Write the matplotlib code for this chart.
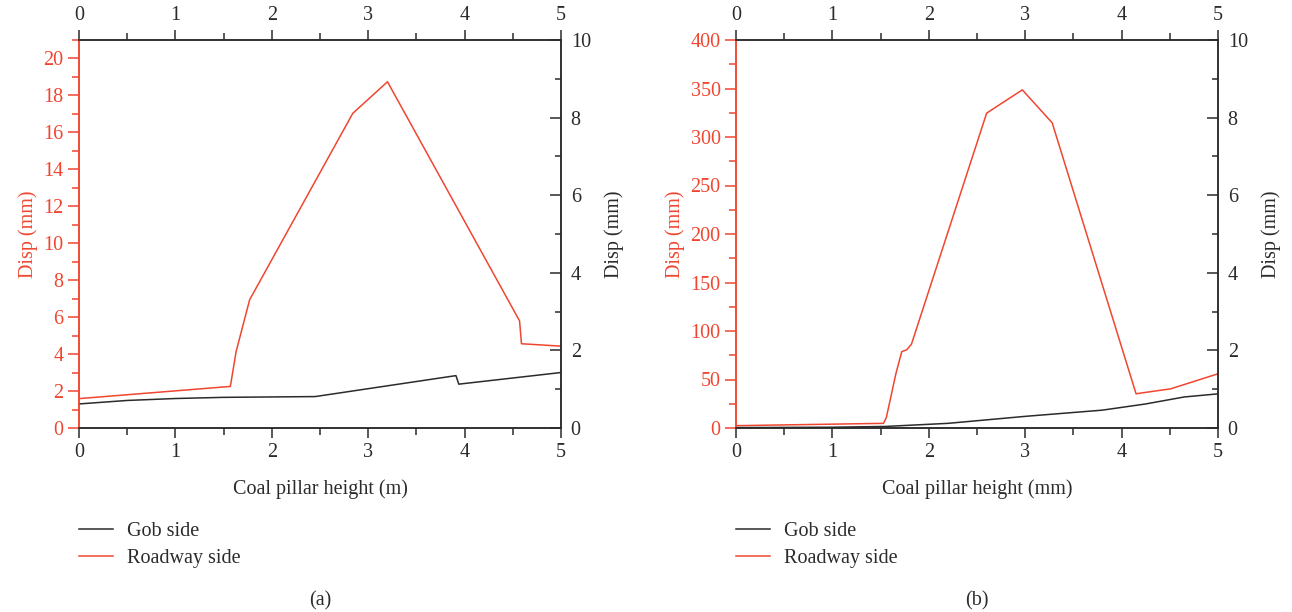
import matplotlib
matplotlib.use("Agg")
import matplotlib.pyplot as plt
from matplotlib.ticker import MultipleLocator
from matplotlib.lines import Line2D

plt.rcParams['font.family'] = ['Liberation Serif', 'DejaVu Serif']

RED = '#f04630'
DARK = '#2b2b2b'

# Panel (a)
a_road_x = [0, 1.57, 1.63, 1.77, 2.84, 3.20, 4.57, 4.59, 5.0]
a_road_y = [1.59, 2.25, 4.14, 6.94, 17.03, 18.74, 5.80, 4.56, 4.43]
a_gob_x = [0, 0.5, 1.0, 1.5, 2.45, 3.91, 3.94, 5.0]
a_gob_y = [0.62, 0.71, 0.76, 0.79, 0.81, 1.35, 1.13, 1.43]

# Panel (b)
b_road_x = [0, 1.53, 1.56, 1.66, 1.72, 1.77, 1.82, 2.60, 2.97, 3.28, 4.15, 4.51, 5.0]
b_road_y = [2.4, 4.8, 11, 56.6, 78.8, 80.5, 86.4, 324.6, 348.6, 314.6, 35.3, 40.4, 55.9]
b_gob_x = [0, 1.0, 1.55, 2.2, 3.0, 3.8, 4.25, 4.65, 5.0]
b_gob_y = [0.01, 0.02, 0.04, 0.12, 0.30, 0.46, 0.62, 0.80, 0.88]

panels = [
    dict(rx=a_road_x, ry=a_road_y, gx=a_gob_x, gy=a_gob_y, ylim=21, ymaj=2, ymin=1,
         xlabel='Coal pillar height (m)', tag='(a)', left=79),
    dict(rx=b_road_x, ry=b_road_y, gx=b_gob_x, gy=b_gob_y, ylim=400, ymaj=50, ymin=25,
         xlabel='Coal pillar height (mm)', tag='(b)', left=736),
]

W, H = 1292, 612
fig = plt.figure(figsize=(W / 100, H / 100), dpi=100)
FS = 14.5

for p in panels:
    l = p['left'] / W
    w = 482 / W
    b = 1 - 428 / H
    h = (428 - 40) / H
    ax = fig.add_axes([l, b, w, h])
    ax2 = ax.twinx()
    ax.plot(p['rx'], p['ry'], color=RED, lw=1.1)
    ax2.plot(p['gx'], p['gy'], color=DARK, lw=1.1)
    ax.set_xlim(0, 5)
    ax.set_ylim(0, p['ylim'])
    ax2.set_ylim(0, 10)
    ax.xaxis.set_major_locator(MultipleLocator(1))
    ax.xaxis.set_minor_locator(MultipleLocator(0.5))
    ax.yaxis.set_major_locator(MultipleLocator(p['ymaj']))
    ax.yaxis.set_minor_locator(MultipleLocator(p['ymin']))
    ax2.yaxis.set_major_locator(MultipleLocator(2))
    ax2.yaxis.set_minor_locator(MultipleLocator(1))

    ax.tick_params(axis='x', which='both', direction='out', top=True, labeltop=True,
                   colors=DARK, labelsize=FS, width=1.1)
    ax.tick_params(axis='x', which='major', length=7, pad=4)
    ax.tick_params(axis='x', which='minor', length=5)
    ax.tick_params(axis='y', which='both', direction='out', colors=RED, labelsize=FS, width=1.1)
    ax.tick_params(axis='y', which='major', length=8, pad=3)
    ax.tick_params(axis='y', which='minor', length=5)
    ax2.tick_params(axis='y', which='both', direction='in', colors=DARK, labelsize=FS, width=1.1)
    ax2.tick_params(axis='y', which='major', length=8, pad=7)
    ax2.tick_params(axis='y', which='minor', length=4)

    for s in ['top', 'bottom', 'right']:
        ax.spines[s].set_color(DARK)
        ax2.spines[s].set_color(DARK)
        ax.spines[s].set_linewidth(1.1)
        ax2.spines[s].set_linewidth(1.1)
    ax.spines['left'].set_color(RED)
    ax2.spines['left'].set_color(RED)
    ax.spines['left'].set_linewidth(1.1)
    ax2.spines['left'].set_linewidth(1.1)

    ax.set_ylabel('Disp (mm)', color=RED, fontsize=FS, labelpad=4)
    ax2.set_ylabel('Disp (mm)', color=DARK, fontsize=FS, labelpad=10)
    ax.set_xlabel(p['xlabel'], fontsize=FS, color=DARK, labelpad=12)

    cx = (p['left'] + 241) / W
    fig.text(cx, 1 - 601 / H, p['tag'], ha='center', va='center', fontsize=FS, color=DARK)

    handles = [Line2D([], [], color=DARK, lw=1.1), Line2D([], [], color=RED, lw=1.1)]
    fig.legend(handles, ['Gob side', 'Roadway side'], loc='upper left',
               bbox_to_anchor=(p['left'] / W, 1 - 522 / H), frameon=False,
               fontsize=FS, handlelength=1.7, handletextpad=0.7, labelspacing=0.4,
               borderpad=0, borderaxespad=0, labelcolor=DARK)

fig.savefig('out.png', dpi=100)
